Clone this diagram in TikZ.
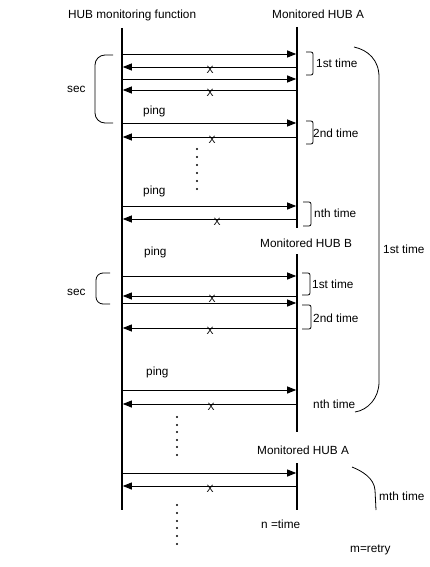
\documentclass[tikz,border=0pt]{standalone}
\usepackage{fontspec}
\setmainfont{Liberation Sans}
\usetikzlibrary{arrows.meta}
\begin{document}
\begin{tikzpicture}[x=1pt,y=-1pt,
  life/.style={line width=2pt},
  msg/.style={line width=0.9pt,-{Triangle[length=9pt,width=7pt]},shorten >=0.8pt},
  lbl/.style={anchor=base west,inner sep=0pt,font=\fontsize{11.8}{13}\selectfont},
  xmark/.style={inner sep=0pt,font=\fontsize{10.5}{11}\selectfont},
  thinln/.style={line width=0.8pt},
  dotmark/.style={fill=black}]
\useasboundingbox (0,0) rectangle (429,567);
\fill[white] (0,0) rectangle (429,567);
% lifelines
\coordinate (Lt) at (122,28);  \coordinate (Lb) at (122,510);
\coordinate (RAt) at (297,27); \coordinate (RAb) at (297,228);
\coordinate (RBt) at (297,254); \coordinate (RBb) at (297,432);
\coordinate (RCt) at (297,463); \coordinate (RCb) at (297,510);
\draw[life] (Lt) -- (Lb);
\draw[life] (RAt) -- (RAb);
\draw[life] (RBt) -- (RBb);
\draw[life] (RCt) -- (RCb);
% headings
\node[lbl] (hf) at (68,19) {HUB monitoring function};
\node[lbl] (ha) at (272,19) {Monitored HUB A};
\node[lbl] (hb) at (260,247) {Monitored HUB B};
\node[lbl] (ha2) at (257,454) {Monitored HUB A};
% messages to the right
\foreach \y in {54,79,123,206,276,303,390,473}
  \draw[msg] (Lt |- 0,\y) -- (RAt |- 0,\y);
% messages to the left
\foreach \y in {67,90,137,219,296,328,404,486}
  \draw[msg] (RAt |- 0,\y) -- (Lt |- 0,\y);
% lost-reply marks
\foreach \x/\y [count=\i] in {210/67,210/90,212/137,217/219,212/296,210/328,211/404,210/486}
  \node[xmark] (x\i) at (\x,\y+2.4) {X};
% ping labels
\node[lbl] (p1) at (143,115) {ping};
\node[lbl] (p2) at (143,194) {ping};
\node[lbl] (p3) at (144,255) {ping};
\node[lbl] (p4) at (146,375) {ping};
% small right brackets
\foreach \a/\b/\c/\d in {306/313/52/75, 306/313/121/144, 303/311/202/226, 302/310/273/295, 302/311/305/329}
  \draw[thinln,rounded corners=2pt] (\a,\c) -- (\b,\c) -- (\b,\d) -- (\a,\d);
\node[lbl] (t1) at (316,68) {1st time};
\node[lbl] (t2) at (313,137) {2nd time};
\node[lbl] (t3) at (314,217) {nth time};
\node[lbl] (t4) at (312,288) {1st time};
\node[lbl] (t5) at (313,322) {2nd time};
\node[lbl] (t6) at (313,408) {nth time};
% sec braces
\draw[thinln,rounded corners=10pt] (113,55) -- (95,55) -- (95,123) -- (113,123);
\draw[thinln,rounded corners=7pt] (110,273) -- (96,273) -- (96,304) -- (110,304);
\node[lbl] (s1) at (67,93) {sec};
\node[lbl] (s2) at (67,295) {sec};
% big right brace
\draw[thinln] (354,47) .. controls (368,50) and (379,60) .. (379,77) -- (379,382)
  .. controls (379,398) and (368,410) .. (355,412);
\node[lbl] (big) at (383,253) {1st time};
% mth curve
\draw[thinln] (352,467) .. controls (362,471) and (374,478) .. (375,490) -- (376,510);
\node[lbl] (mt) at (379,500) {mth time};
% continuation dots
\foreach \y in {149,157,165,173,181,189} \fill[dotmark] (197,\y) circle (1.1);
\foreach \y in {417,425,432,440,447,455} \fill[dotmark] (177,\y) circle (1.1);
\foreach \y in {505,513,521,528,536,544} \fill[dotmark] (177,\y) circle (1.1);
% notes
\node[lbl] (nt) at (261,528) {n =time};
\node[lbl] (mr) at (350,552) {m=retry};
\end{tikzpicture}
\end{document}
